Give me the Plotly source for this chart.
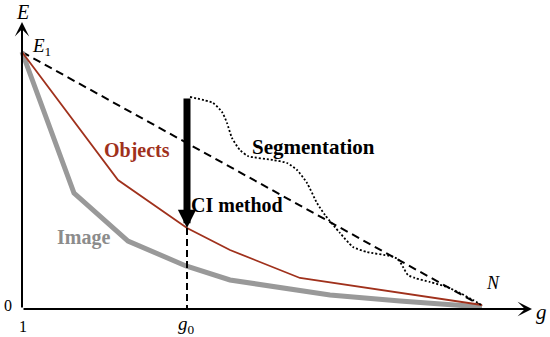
import plotly.graph_objects as go

# Data (g on horizontal axis, E on vertical axis; arbitrary units)
g_image = [0, 52, 106, 164, 208, 308, 378, 460]
e_image = [257, 116, 68, 43, 29, 14, 8, 2]

g_objects = [0, 96, 165, 208, 278, 338, 460]
e_objects = [257, 129, 81, 59, 31, 22, 4]

g_linear = [0, 460]
e_linear = [257, 3]

g_seg = [168, 191, 200, 205, 210, 218, 226, 251, 265, 275, 285, 295, 303, 318, 331,
         345, 368, 376, 381, 386, 393, 408, 425, 438, 451, 461]
e_seg = [212, 206, 197, 186, 171, 159, 153, 149, 146, 139, 126, 106, 94, 76, 62,
         57, 53, 50, 42, 34, 31, 27, 22, 16, 9, 3]

g0 = 165
e_at_g0 = 81
g_axis_end = 510
e_axis_end = 287

FONT = "Liberation Serif"
RED = "#A0311C"
GRAY = "#999999"

fig = go.Figure()

fig.add_trace(go.Scatter(x=g_linear, y=e_linear, mode="lines",
                         line=dict(color="black", width=2, dash="8px,5px"), hoverinfo="skip"))
fig.add_trace(go.Scatter(x=g_image, y=e_image, mode="lines",
                         line=dict(color=GRAY, width=5), hoverinfo="skip"))
fig.add_trace(go.Scatter(x=g_objects, y=e_objects, mode="lines",
                         line=dict(color=RED, width=1.8), hoverinfo="skip"))
fig.add_trace(go.Scatter(x=g_seg, y=e_seg, mode="lines",
                         line=dict(color="black", width=1.8, dash="2px,2px", shape="spline", smoothing=0.6),
                         hoverinfo="skip"))
fig.add_trace(go.Scatter(x=[g0, g0], y=[e_at_g0, 0], mode="lines",
                         line=dict(color="black", width=2, dash="7px,4px"), hoverinfo="skip"))

ann = []
# axes arrows
ann.append(dict(x=g_axis_end, y=0, ax=0, ay=0, xref="x", yref="y", axref="x", ayref="y",
                text="", showarrow=True, arrowhead=3, arrowwidth=2, arrowsize=1.2, arrowcolor="black"))
ann.append(dict(x=0, y=e_axis_end, ax=0, ay=0, xref="x", yref="y", axref="x", ayref="y",
                text="", showarrow=True, arrowhead=3, arrowwidth=2, arrowsize=1.2, arrowcolor="black"))
# big CI arrow
ann.append(dict(x=g0, y=e_at_g0, ax=g0, ay=e_seg[0], xref="x", yref="y", axref="x", ayref="y",
                text="", showarrow=True, arrowhead=2, arrowwidth=7, arrowsize=0.52, arrowcolor="black"))

def label(x, y, text, size, color="black", xanchor="center"):
    ann.append(dict(x=x, y=y, xref="x", yref="y", text=text, showarrow=False,
                    xanchor=xanchor, yanchor="middle",
                    font=dict(family=FONT, size=size, color=color)))

label(0, 297, "<i>E</i>", 20)
label(8, 262, "<i>E</i><sub>1</sub>", 19, xanchor="left")
label(-14, 4, "0", 16)
label(1, -17, "1", 16)
label(164, -16, "<i>g</i><sub>0</sub>", 19)
label(471, 26, "<i>N</i>", 18)
label(519, -3, "<i>g</i>", 21)
label(115, 159, "<b>Objects</b>", 20, RED)
label(291, 162, "<b>Segmentation</b>", 21)
label(215, 104, "<b>CI method</b>", 20)
label(61, 72, "<b>Image</b>", 20, "#8c8c8c")

fig.update_layout(
    width=550, height=337,
    margin=dict(l=0, r=0, t=0, b=0),
    paper_bgcolor="white", plot_bgcolor="white",
    showlegend=False,
    xaxis=dict(range=[-22, 528], visible=False, fixedrange=True),
    yaxis=dict(range=[-28, 309], visible=False, fixedrange=True),
    annotations=ann,
)

fig.write_html("out.html",
               config={"displayModeBar": False, "staticPlot": True},
               post_script="document.body.style.margin='0';document.body.style.padding='0';"
                           "document.documentElement.style.overflow='hidden';")
